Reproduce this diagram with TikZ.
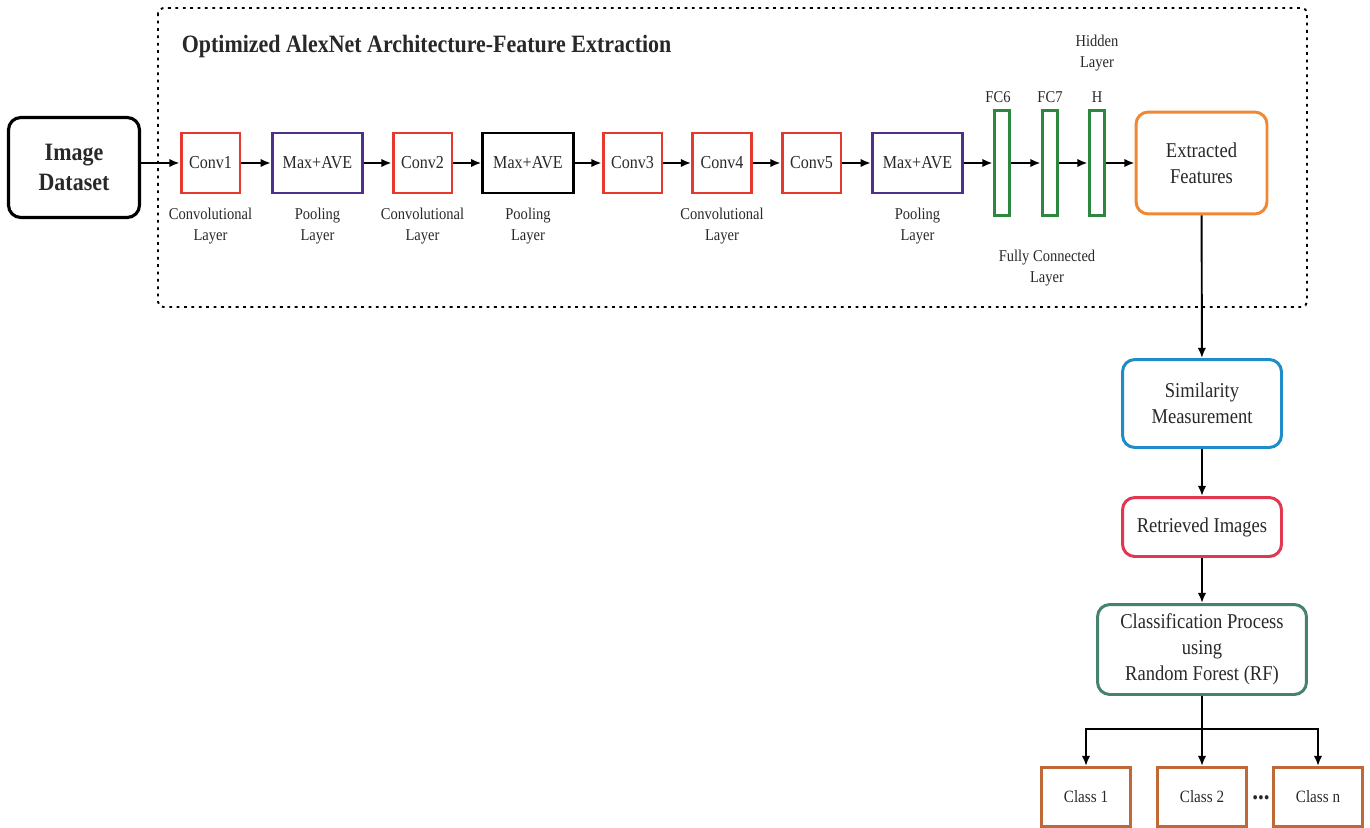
\documentclass[tikz,border=0pt]{standalone}
\usepackage{fontspec}
\setmainfont{Liberation Serif}[FakeStretch=0.88]
\usetikzlibrary{arrows.meta}
\definecolor{convred}{RGB}{229,57,48}
\definecolor{poolpurple}{RGB}{78,48,140}
\definecolor{fcgreen}{RGB}{45,135,62}
\definecolor{featorange}{RGB}{240,135,50}
\definecolor{simblue}{RGB}{30,140,200}
\definecolor{retred}{RGB}{225,55,80}
\definecolor{clsteal}{RGB}{70,130,108}
\definecolor{classbrown}{RGB}{190,105,55}
\definecolor{darktext}{RGB}{40,40,40}
\tikzset{
  layerbox/.style={draw, line width=1.7pt, minimum height=1.2cm, font=\fontsize{10.4}{12}\selectfont},
  convbox/.style={layerbox, draw=convred, minimum width=1.18cm},
  poolbox/.style={layerbox, minimum width=1.81cm},
  fcbar/.style={draw=fcgreen, line width=1.7pt, minimum width=0.3cm, minimum height=2.12cm, inner sep=0pt},
  stepnote/.style={align=center, font=\fontsize{9.4}{11.9}\selectfont},
  flowbox/.style={draw, rounded corners=7pt, line width=1.7pt, align=center, font=\fontsize{12}{14.8}\selectfont},
  classbox/.style={draw=classbrown, line width=1.7pt, minimum width=1.78cm, minimum height=1.18cm, font=\fontsize{9.8}{11}\selectfont},
  frame/.style={line width=1.1pt, dash pattern=on 1.6pt off 2.6pt, rounded corners=3pt}
}
\begin{document}
\begin{tikzpicture}[x=0.02cm, y=-0.02cm, >={Latex[length=5.8pt,width=4.8pt]}, line width=1.1pt, text=darktext]
\useasboundingbox (0,0) rectangle (1370,828);

% feature extraction frame
\draw[frame] (158,8) rectangle (1307,307);
\node[anchor=west, font=\fontsize{14.2}{16}\selectfont\bfseries] (title) at (175,47) {Optimized AlexNet Architecture-Feature Extraction};

\node[draw, rounded corners=7pt, line width=1.8pt, minimum width=2.62cm, minimum height=2.0cm, align=center,
      font=\fontsize{14.2}{17}\selectfont\bfseries] (dataset) at (74,167.5) {Image\\Dataset};

% layers
\foreach \name/\x/\txt in {conv1/210.5/Conv1, conv2/422.5/Conv2, conv3/632.5/Conv3, conv4/722/Conv4, conv5/811.5/Conv5}
{
    \node[convbox] (\name) at (\x,163) {\txt};
}
\node[poolbox, draw=poolpurple] (pool1) at (317.5,163) {Max+AVE};
\node[poolbox, draw=black] (pool2) at (528,163) {Max+AVE};
\node[poolbox, draw=poolpurple] (pool3) at (917.5,163) {Max+AVE};
\foreach \name/\x in {fc6/1001.5, fc7/1049.5, hid/1096.5}
{
    \node[fcbar] (\name) at (\x,163) {};
}
\node[flowbox, draw=featorange, minimum width=2.62cm, minimum height=2.04cm] (feat) at (1201.5,163) {Extracted\\Features};

% labels
\foreach \name/\x/\txt in {lab1/210.5/{Convolutional\\Layer}, lab2/317.5/{Pooling\\Layer}, lab3/422.5/{Convolutional\\Layer},
    lab4/528/{Pooling\\Layer}, lab5/722/{Convolutional\\Layer}, lab6/917.5/{Pooling\\Layer}}
{
    \node[stepnote] (\name) at (\x,226) {\txt};
}
\foreach \name/\x/\txt in {fc6lab/998/FC6, fc7lab/1050/FC7, hidlab/1097/H}
{
    \node[stepnote] (\name) at (\x,97) {\txt};
}
\node[stepnote] (hidnote) at (1097,53) {Hidden\\Layer};
\node[stepnote] (fcnote) at (1047,268) {Fully Connected\\Layer};

\draw[->] (dataset.east|-conv1.west) -- (conv1.west);
\foreach \a/\b in {conv1/pool1, pool1/conv2, conv2/pool2, pool2/conv3, conv3/conv4, conv4/conv5, conv5/pool3, pool3/fc6, fc6/fc7, fc7/hid, hid/feat}
{
    \draw[->] (\a) -- (\b);
}

% retrieval and classification
\node[flowbox, draw=simblue, minimum width=3.18cm, minimum height=1.76cm] (sim) at (1202,403.5) {Similarity\\Measurement};
\node[flowbox, draw=retred, minimum width=3.18cm, minimum height=1.18cm] (ret) at (1202,527) {Retrieved Images};
\node[flowbox, draw=clsteal, minimum width=4.18cm, minimum height=1.8cm] (cls) at (1202,649.5) {Classification Process\\using\\Random Forest (RF)};
\node[classbox] (class1) at (1086,797) {Class 1};
\node[classbox] (class2) at (1202,797) {Class 2};
\node[classbox] (classn) at (1318,797) {Class n};
\node[font=\fontsize{15}{16}\selectfont\bfseries] (dots) at (1261,798) {...};

\draw[->] (feat) -- (sim);
\draw[->] (sim) -- (ret);
\draw[->] (ret) -- (cls);
\coordinate (split) at (1202,729);
\draw (cls) -- (split);
\draw[->] (split) -- (class2);
\draw[->] (split) -| (class1);
\draw[->] (split) -| (classn);

\end{tikzpicture}
\end{document}
